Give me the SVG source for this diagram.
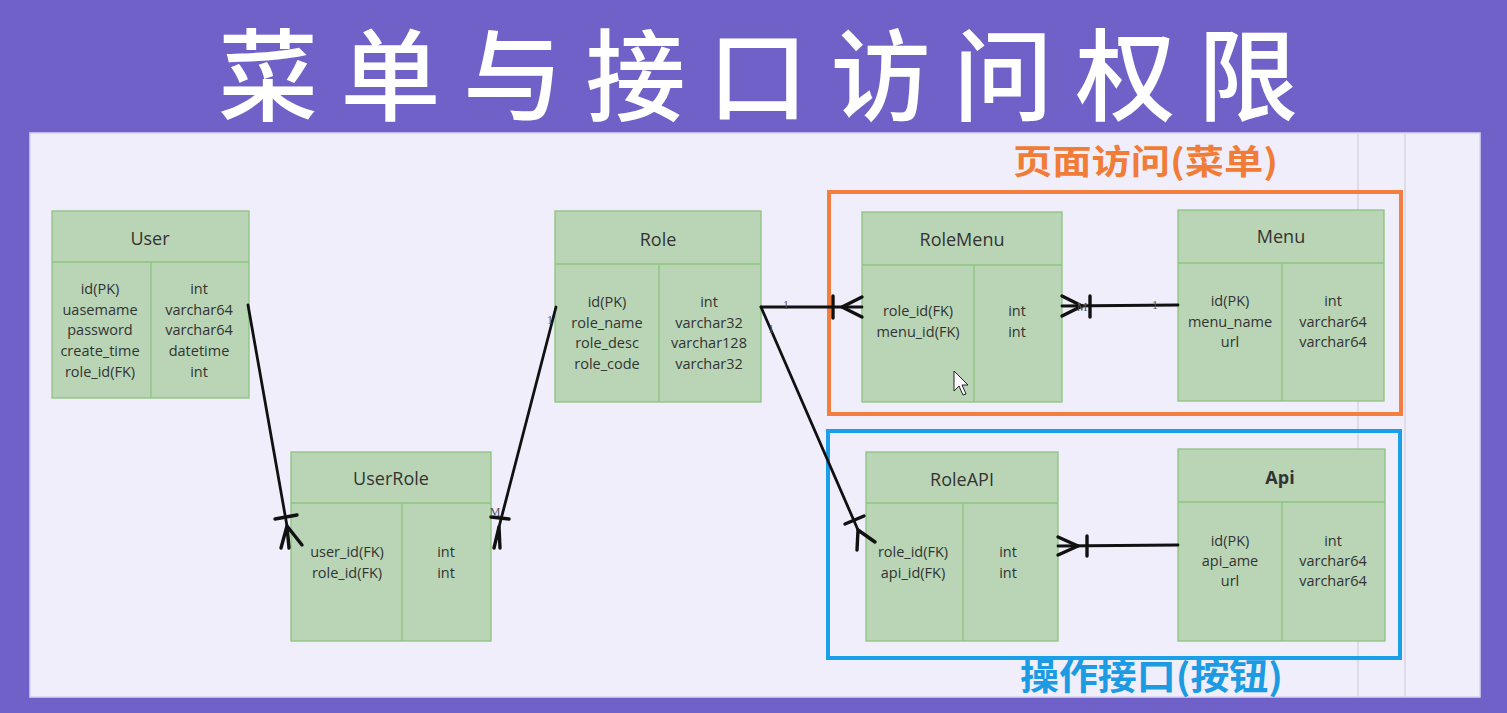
<svg xmlns="http://www.w3.org/2000/svg" width="1507" height="713" viewBox="0 0 1507 713">
<style>
.tbl{fill:#b9d5b6;stroke:#8dc47f;stroke-width:1.3}
.div{stroke:#8dc47f;stroke-width:1.3}
.hd{font-family:"Open Sans","Noto Sans",sans-serif;font-size:18px;fill:#333;text-anchor:middle}
.fd{font-family:"Open Sans","Noto Sans",sans-serif;font-size:14.5px;fill:#333;text-anchor:middle}
.ln{stroke:#111;stroke-width:2.8;fill:none;stroke-linecap:round}
.mk{stroke:#111;stroke-width:3.4;fill:none;stroke-linecap:round}
.lb{font-family:"Liberation Serif",serif;font-size:12px;fill:#555;text-anchor:middle}
</style>
<rect x="0" y="0" width="1507" height="713" fill="#7061c8"/>
<rect x="30" y="133" width="1450" height="564" fill="#f0eefa" stroke="#d9d3f2" stroke-width="1.5"/>
<line x1="1358" y1="134" x2="1358" y2="697" stroke="#d8d6e2" stroke-width="1.5"/>
<line x1="1405" y1="134" x2="1405" y2="697" stroke="#d8d6e2" stroke-width="1.5"/>
<text x="218" y="113" textLength="1080" lengthAdjust="spacing" font-family="Noto Sans CJK SC, sans-serif" font-size="100" font-weight="500" fill="#ffffff">菜单与接口访问权限</text>
<text x="1013" y="174" textLength="265" lengthAdjust="spacingAndGlyphs" font-family="Noto Sans CJK SC, sans-serif" font-size="34" font-weight="700" fill="#f07c38">页面访问(菜单)</text>
<text x="1020" y="690" textLength="263" lengthAdjust="spacingAndGlyphs" font-family="Noto Sans CJK SC, sans-serif" font-size="36" font-weight="700" fill="#1c9be2">操作接口(按钮)</text>
<rect x="829" y="192" width="572" height="222" fill="none" stroke="#f27f3d" stroke-width="4"/>
<rect x="828" y="431" width="572" height="227" fill="none" stroke="#1a9fe8" stroke-width="4"/>
<g id="User">
<rect class="tbl" x="52" y="211" width="197" height="187"/>
<line class="div" x1="52" y1="262" x2="249" y2="262"/>
<line class="div" x1="151" y1="262" x2="151" y2="398"/>
<text class="hd" x="150" y="245">User</text>
<text class="fd"><tspan x="100" y="294">id(PK)</tspan><tspan x="100" y="315">uasemame</tspan><tspan x="100" y="335">password</tspan><tspan x="100" y="356">create_time</tspan><tspan x="100" y="377">role_id(FK)</tspan></text>
<text class="fd"><tspan x="199" y="294">int</tspan><tspan x="199" y="315">varchar64</tspan><tspan x="199" y="335">varchar64</tspan><tspan x="199" y="356">datetime</tspan><tspan x="199" y="377">int</tspan></text>
</g>
<g id="UserRole">
<rect class="tbl" x="291" y="452" width="200" height="189"/>
<line class="div" x1="291" y1="503" x2="491" y2="503"/>
<line class="div" x1="402" y1="503" x2="402" y2="641"/>
<text class="hd" x="391" y="485">UserRole</text>
<text class="fd"><tspan x="347" y="557">user_id(FK)</tspan><tspan x="347" y="578">role_id(FK)</tspan></text>
<text class="fd"><tspan x="446" y="557">int</tspan><tspan x="446" y="578">int</tspan></text>
</g>
<g id="Role">
<rect class="tbl" x="555" y="211" width="206" height="191"/>
<line class="div" x1="555" y1="264" x2="761" y2="264"/>
<line class="div" x1="659" y1="264" x2="659" y2="402"/>
<text class="hd" x="658" y="246">Role</text>
<text class="fd"><tspan x="607" y="307">id(PK)</tspan><tspan x="607" y="328">role_name</tspan><tspan x="607" y="348">role_desc</tspan><tspan x="607" y="369">role_code</tspan></text>
<text class="fd"><tspan x="709" y="307">int</tspan><tspan x="709" y="328">varchar32</tspan><tspan x="709" y="348">varchar128</tspan><tspan x="709" y="369">varchar32</tspan></text>
</g>
<g id="RoleMenu">
<rect class="tbl" x="862" y="212" width="200" height="190"/>
<line class="div" x1="862" y1="265" x2="1062" y2="265"/>
<line class="div" x1="974" y1="265" x2="974" y2="402"/>
<text class="hd" x="962" y="246">RoleMenu</text>
<text class="fd"><tspan x="918" y="316">role_id(FK)</tspan><tspan x="918" y="337">menu_id(FK)</tspan></text>
<text class="fd"><tspan x="1017" y="316">int</tspan><tspan x="1017" y="337">int</tspan></text>
</g>
<g id="Menu">
<rect class="tbl" x="1178" y="210" width="206" height="191"/>
<line class="div" x1="1178" y1="263" x2="1384" y2="263"/>
<line class="div" x1="1282" y1="263" x2="1282" y2="401"/>
<text class="hd" x="1281" y="243">Menu</text>
<text class="fd"><tspan x="1230" y="306">id(PK)</tspan><tspan x="1230" y="327">menu_name</tspan><tspan x="1230" y="347">url</tspan></text>
<text class="fd"><tspan x="1333" y="306">int</tspan><tspan x="1333" y="327">varchar64</tspan><tspan x="1333" y="347">varchar64</tspan></text>
</g>
<g id="RoleAPI">
<rect class="tbl" x="866" y="452" width="192" height="189"/>
<line class="div" x1="866" y1="503" x2="1058" y2="503"/>
<line class="div" x1="963" y1="503" x2="963" y2="641"/>
<text class="hd" x="962" y="486">RoleAPI</text>
<text class="fd"><tspan x="913" y="557">role_id(FK)</tspan><tspan x="913" y="578">api_id(FK)</tspan></text>
<text class="fd"><tspan x="1008" y="557">int</tspan><tspan x="1008" y="578">int</tspan></text>
</g>
<g id="Api">
<rect class="tbl" x="1178" y="449" width="207" height="192"/>
<line class="div" x1="1178" y1="502" x2="1385" y2="502"/>
<line class="div" x1="1282" y1="502" x2="1282" y2="641"/>
<text class="hd" x="1280" y="484" font-weight="700">Api</text>
<text class="fd"><tspan x="1230" y="546">id(PK)</tspan><tspan x="1230" y="566">api_ame</tspan><tspan x="1230" y="586">url</tspan></text>
<text class="fd"><tspan x="1333" y="546">int</tspan><tspan x="1333" y="566">varchar64</tspan><tspan x="1333" y="586">varchar64</tspan></text>
</g>
<g id="connectors">
<line class="ln" x1="248" y1="305" x2="287" y2="526"/>
<line class="mk" x1="275" y1="519" x2="297" y2="515"/>
<path class="mk" d="M287 526 L281 548 M287 526 L289 548 M287 526 L302 545"/>
<line class="ln" x1="556" y1="307" x2="499" y2="527"/>
<line class="mk" x1="491" y1="517" x2="509" y2="519"/>
<path class="mk" d="M499 527 L494 548 M499 527 L500 548"/>
<line class="ln" x1="761" y1="307" x2="862" y2="307"/>
<line class="mk" x1="833" y1="296" x2="833" y2="318"/>
<path class="mk" d="M842 307 L862 297 M842 307 L862 317"/>
<line class="ln" x1="761" y1="307" x2="858" y2="530"/>
<line class="mk" x1="845" y1="524" x2="864" y2="516"/>
<path class="mk" d="M858 530 L857 550 M858 530 L875 542"/>
<line class="ln" x1="1062" y1="306" x2="1178" y2="305"/>
<line class="mk" x1="1090" y1="296" x2="1090" y2="317"/>
<path class="mk" d="M1082 306 L1062 296 M1082 306 L1062 316"/>
<line class="ln" x1="1058" y1="546" x2="1178" y2="545"/>
<line class="mk" x1="1087" y1="536" x2="1087" y2="556"/>
<path class="mk" d="M1078 546 L1058 537 M1078 546 L1058 555"/>
<text class="lb" x="786" y="309">1</text>
<text class="lb" x="1155" y="309">1</text>
<text class="lb" x="771" y="333">1</text>
<text class="lb" x="550" y="324">1</text>
<text class="lb" x="1082" y="311">M</text>
<text class="lb" x="495" y="516">M</text>
</g>
<path d="M954 371 L954 391 L959 386 L963 395 L966 394 L962 385 L968 385 Z" fill="#ffffff" stroke="#222" stroke-width="1"/>
</svg>
